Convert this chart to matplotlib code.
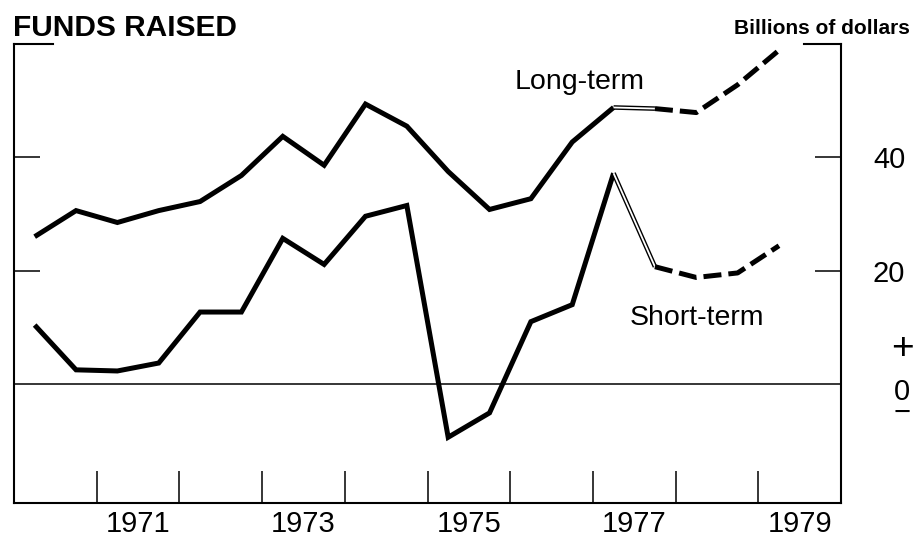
import numpy as np
import matplotlib.pyplot as plt

plt.rcParams['font.family'] = ['Liberation Sans', 'DejaVu Sans']

# half-year periods, plotted at mid-period (billions of dollars)
periods = [1970.25, 1970.75, 1971.25, 1971.75, 1972.25, 1972.75, 1973.25,
           1973.75, 1974.25, 1974.75, 1975.25, 1975.75, 1976.25, 1976.75,
           1977.25, 1977.75, 1978.25, 1978.75, 1979.25]
long_term = [26.0, 30.6, 28.5, 30.6, 32.2, 36.8, 43.7, 38.6, 49.4, 45.5,
             37.5, 30.8, 32.7, 42.7, 48.8, 48.6, 47.9, 52.8, 58.9]
short_term = [10.4, 2.5, 2.3, 3.7, 12.7, 12.7, 25.7, 21.1, 29.6, 31.5,
              -9.4, -5.1, 11.0, 14.0, 37.2, 20.7, 18.8, 19.6, 24.4]
last_actual = 14    # solid up to here, then a double line, then dashed
first_est = 15

year_ticks = [1971, 1972, 1973, 1974, 1975, 1976, 1977, 1978, 1979]
label_pos = [1971.5, 1973.5, 1975.5, 1977.5, 1979.5]
year_labels = ['1971', '1973', '1975', '1977', '1979']
y_ticks = [20, 40]

fig = plt.figure(figsize=(9.17, 5.4), dpi=100)
ax = fig.add_axes([14 / 917, 37 / 540, 827 / 917, 459 / 540])
ax.set_xlim(1970, 1980)
ax.set_ylim(-21, 60)

lw = 3.6
for vals in (long_term, short_term):
    x = np.array(periods)
    y = np.array(vals)
    ax.plot(x[:last_actual + 1], y[:last_actual + 1], color='black', lw=lw,
            solid_joinstyle='miter', solid_capstyle='butt')
    seg = slice(last_actual, first_est + 1)
    ax.plot(x[seg], y[seg], color='black', lw=3.3, solid_capstyle='butt')
    ax.plot(x[seg], y[seg], color='white', lw=1.3, solid_capstyle='butt')
    ax.plot(x[first_est:], y[first_est:], color='black', lw=lw,
            linestyle=(0, (3.6, 1.4)), dash_capstyle='butt', clip_on=False)

ax.axhline(0, color='black', lw=1.1)

# frame: left, bottom, right, and short stubs on top
for side in ('left', 'bottom', 'right'):
    ax.spines[side].set_linewidth(1.5)
ax.spines['top'].set_visible(False)
ax.plot([0, 0.047], [1, 1], transform=ax.transAxes, color='black', lw=1.5,
        clip_on=False, solid_capstyle='projecting')
ax.plot([0.955, 1], [1, 1], transform=ax.transAxes, color='black', lw=1.5,
        clip_on=False, solid_capstyle='projecting')

ax.set_xticks(year_ticks)
ax.tick_params(axis='x', which='major', direction='in', length=23, width=1.1,
               labelbottom=False)
ax.set_xticks(label_pos, minor=True)
ax.set_xticklabels(year_labels, minor=True)
ax.tick_params(axis='x', which='minor', length=0, pad=5, labelsize=21)

ax.set_yticks(y_ticks)
ax.tick_params(axis='y', direction='in', length=19, width=1.1, left=True,
               right=True, labelleft=False, labelright=True, labelsize=21,
               pad=23)

ax.text(1976.84, 52, 'Long-term', ha='center', va='baseline', fontsize=20.5)
ax.text(1978.26, 10.4, 'Short-term', ha='center', va='baseline',
        fontsize=20.5)

fig.text(13 / 917, 1 - 36 / 540, 'FUNDS RAISED', fontsize=21.5,
         fontweight='bold', va='baseline')
fig.text(910 / 917, 1 - 34 / 540, 'Billions of dollars', fontsize=15,
         fontweight='bold', ha='right', va='baseline')

# sign marks next to the zero line
fig.text(902 / 917, 1 - 359 / 540, '+', fontsize=28, ha='center',
         va='baseline')
fig.text(902 / 917, 1 - 421 / 540, '0\n\u2212', fontsize=21, ha='center',
         va='baseline', linespacing=0.7, multialignment='center')

fig.savefig('out.png', dpi=100)
